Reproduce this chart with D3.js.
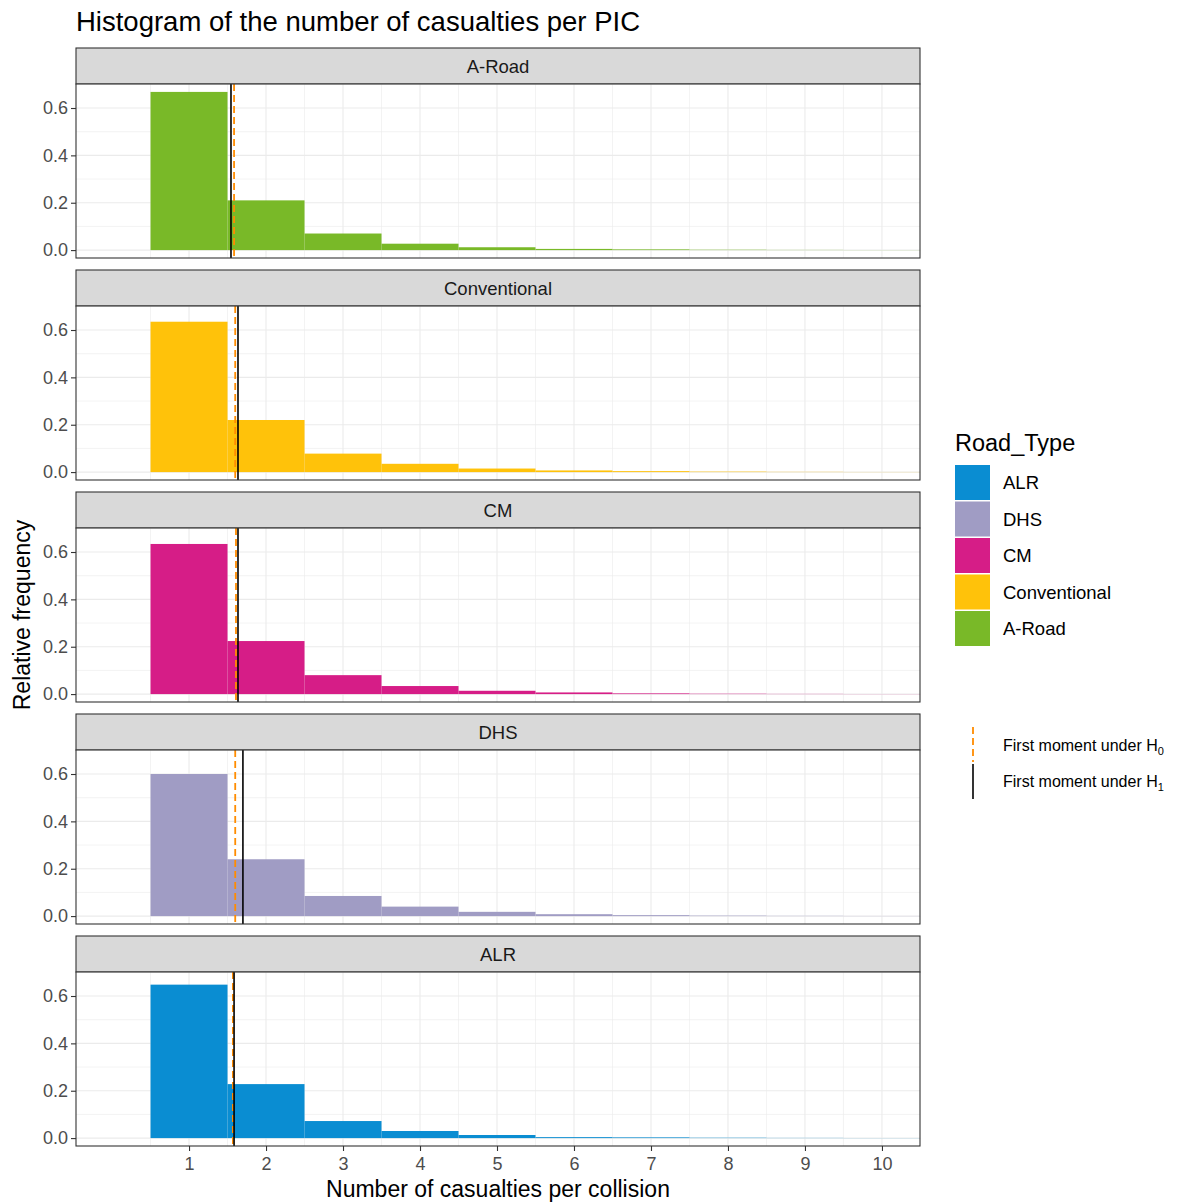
<!DOCTYPE html>
<html><head><meta charset="utf-8">
<script src="https://cdn.jsdelivr.net/npm/d3@7"></script>
<style>body{margin:0;background:#fff;} text{font-family:"Liberation Sans",Arial,sans-serif;}</style>
</head><body>
<svg id="chart" width="1199" height="1203"></svg>
<script>
// ---- data ----
const bins = [1,2,3,4,5,6,7,8,9,10];
const panels = ["A-Road","Conventional","CM","DHS","ALR"];
const aRoad        = [0.668,0.210,0.070,0.027,0.012,0.005,0.003,0.0015,0.0008,0.0004];
const conventional = [0.635,0.220,0.078,0.035,0.015,0.007,0.004,0.002,0.001,0.0005];
const cm           = [0.634,0.224,0.080,0.034,0.014,0.007,0.003,0.0015,0.0008,0.0004];
const dhs          = [0.600,0.240,0.085,0.040,0.018,0.008,0.004,0.002,0.001,0.0005];
const alr          = [0.648,0.228,0.072,0.030,0.013,0.004,0.003,0.0015,0.0008,0.0004];
const h0Moment = [1.585,1.600,1.610,1.600,1.570];
const h1Moment = [1.545,1.636,1.636,1.700,1.585];
const legendTypes = ["ALR","DHS","CM","Conventional","A-Road"];
const typeColors = {"ALR":"#0a8dd2","DHS":"#a09cc4","CM":"#d61d87","Conventional":"#ffc20a","A-Road":"#79b928"};
const xTicks = [1,2,3,4,5,6,7,8,9,10];
const yTicks = [0,0.2,0.4,0.6];
const seriesByPanel = [aRoad, conventional, cm, dhs, alr];

// ---- layout ----
const svg = d3.select("#chart");
const L = 76, R = 920;
const stripH = 36, panelH = 174, step = 222, top0 = 48;
const x = d3.scaleLinear().domain([-0.468, 10.494]).range([L, R]);
const ymax = 0.668, ex = ymax*0.05;
const axisCol = "#333333", tickTxt = "#4d4d4d";
const FF = "Liberation Sans, Arial, sans-serif";

svg.append("text").attr("x",L).attr("y",31).attr("font-size",27.5).attr("fill","#000")
  .text("Histogram of the number of casualties per PIC");

panels.forEach((name,i)=>{
  const sTop = top0 + i*step;
  const pTop = sTop + stripH, pBot = pTop + panelH;
  const y = d3.scaleLinear().domain([-ex, ymax+ex]).range([pBot, pTop]);
  const g = svg.append("g");
  // strip
  g.append("rect").attr("x",L).attr("y",sTop).attr("width",R-L).attr("height",stripH)
    .attr("fill","#d9d9d9").attr("stroke",axisCol).attr("stroke-width",1.1);
  g.append("text").attr("x",(L+R)/2).attr("y",sTop+stripH/2+6.5).attr("text-anchor","middle")
    .attr("font-size",18.5).attr("fill","#1a1a1a").text(name);
  // panel bg
  g.append("rect").attr("x",L).attr("y",pTop).attr("width",R-L).attr("height",panelH).attr("fill","#fff");
  // grid minor
  const xMinor = d3.range(-0.5, 11, 1).filter(v=>v>x.domain()[0]&&v<x.domain()[1]);
  const yMinor = [0.1,0.3,0.5,0.7].filter(v=>v<ymax+ex);
  g.selectAll(".xm").data(xMinor).enter().append("line")
    .attr("x1",d=>x(d)).attr("x2",d=>x(d)).attr("y1",pTop).attr("y2",pBot)
    .attr("stroke","#ebebeb").attr("stroke-width",0.6);
  g.selectAll(".ym").data(yMinor).enter().append("line")
    .attr("x1",L).attr("x2",R).attr("y1",d=>y(d)).attr("y2",d=>y(d))
    .attr("stroke","#ebebeb").attr("stroke-width",0.6);
  g.selectAll(".xM").data(xTicks).enter().append("line")
    .attr("x1",d=>x(d)).attr("x2",d=>x(d)).attr("y1",pTop).attr("y2",pBot)
    .attr("stroke","#ebebeb").attr("stroke-width",1.1);
  g.selectAll(".yM").data(yTicks).enter().append("line")
    .attr("x1",L).attr("x2",R).attr("y1",d=>y(d)).attr("y2",d=>y(d))
    .attr("stroke","#ebebeb").attr("stroke-width",1.1);
  // bars
  const vals = seriesByPanel[i];
  g.selectAll(".bar").data(bins.map((b,k)=>({b,v:vals[k]}))).enter().append("rect")
    .attr("x",d=>x(d.b-0.5)).attr("width",d=>x(d.b+0.5)-x(d.b-0.5))
    .attr("y",d=>y(d.v)).attr("height",d=>Math.max(0,y(0)-y(d.v)))
    .attr("fill",typeColors[name]);
  // moment lines
  g.append("line").attr("x1",x(h0Moment[i])).attr("x2",x(h0Moment[i])).attr("y1",pTop).attr("y2",pBot)
    .attr("stroke","#ff8c00").attr("stroke-width",1.8).attr("stroke-dasharray","7,4");
  g.append("line").attr("x1",x(h1Moment[i])).attr("x2",x(h1Moment[i])).attr("y1",pTop).attr("y2",pBot)
    .attr("stroke","#000").attr("stroke-width",1.6);
  // border
  g.append("rect").attr("x",L).attr("y",pTop).attr("width",R-L).attr("height",panelH)
    .attr("fill","none").attr("stroke",axisCol).attr("stroke-width",1.1);
  // y axis
  const ya = g.append("g").attr("transform",`translate(${L},0)`)
    .call(d3.axisLeft(y).tickValues(yTicks).tickFormat(d3.format(".1f")).tickSize(5).tickPadding(3));
  ya.select(".domain").remove();
  ya.selectAll("line").attr("stroke",axisCol).attr("stroke-width",1.1);
  ya.selectAll("text").attr("font-size",18).attr("fill",tickTxt).attr("font-family",FF);
  if(i===panels.length-1){
    const xa = g.append("g").attr("transform",`translate(0,${pBot})`)
      .call(d3.axisBottom(x).tickValues(xTicks).tickSize(5).tickPadding(6));
    xa.select(".domain").remove();
    xa.selectAll("line").attr("stroke",axisCol).attr("stroke-width",1.1);
    xa.selectAll("text").attr("font-size",18).attr("fill",tickTxt).attr("font-family",FF);
  }
});

// axis titles
svg.append("text").attr("x",(L+R)/2).attr("y",1197).attr("text-anchor","middle")
  .attr("font-size",23).attr("fill","#000").text("Number of casualties per collision");
svg.append("text").attr("transform","translate(30,615) rotate(-90)").attr("text-anchor","middle")
  .attr("font-size",23).attr("fill","#000").text("Relative frequency");

// legend
const lg = svg.append("g");
lg.append("text").attr("x",955).attr("y",451).attr("font-size",23.5).attr("fill","#000").text("Road_Type");
legendTypes.forEach((t,k)=>{
  const yy = 465 + k*36.5;
  lg.append("rect").attr("x",955).attr("y",yy).attr("width",35).attr("height",35).attr("fill",typeColors[t]);
  lg.append("text").attr("x",1003).attr("y",yy+24).attr("font-size",18.5).attr("fill","#000").text(t);
});
const ml = svg.append("g");
ml.append("line").attr("x1",973).attr("x2",973).attr("y1",727).attr("y2",762)
  .attr("stroke","#ff8c00").attr("stroke-width",1.8).attr("stroke-dasharray","7,4");
ml.append("line").attr("x1",973).attr("x2",973).attr("y1",764).attr("y2",799)
  .attr("stroke","#000").attr("stroke-width",1.6);
const t0 = ml.append("text").attr("x",1003).attr("y",751).attr("font-size",16).attr("fill","#000");
t0.append("tspan").text("First moment under H");
t0.append("tspan").attr("font-size",11).attr("dy",4).text("0");
const t1 = ml.append("text").attr("x",1003).attr("y",787).attr("font-size",16).attr("fill","#000");
t1.append("tspan").text("First moment under H");
t1.append("tspan").attr("font-size",11).attr("dy",4).text("1");
</script>
</body></html>
